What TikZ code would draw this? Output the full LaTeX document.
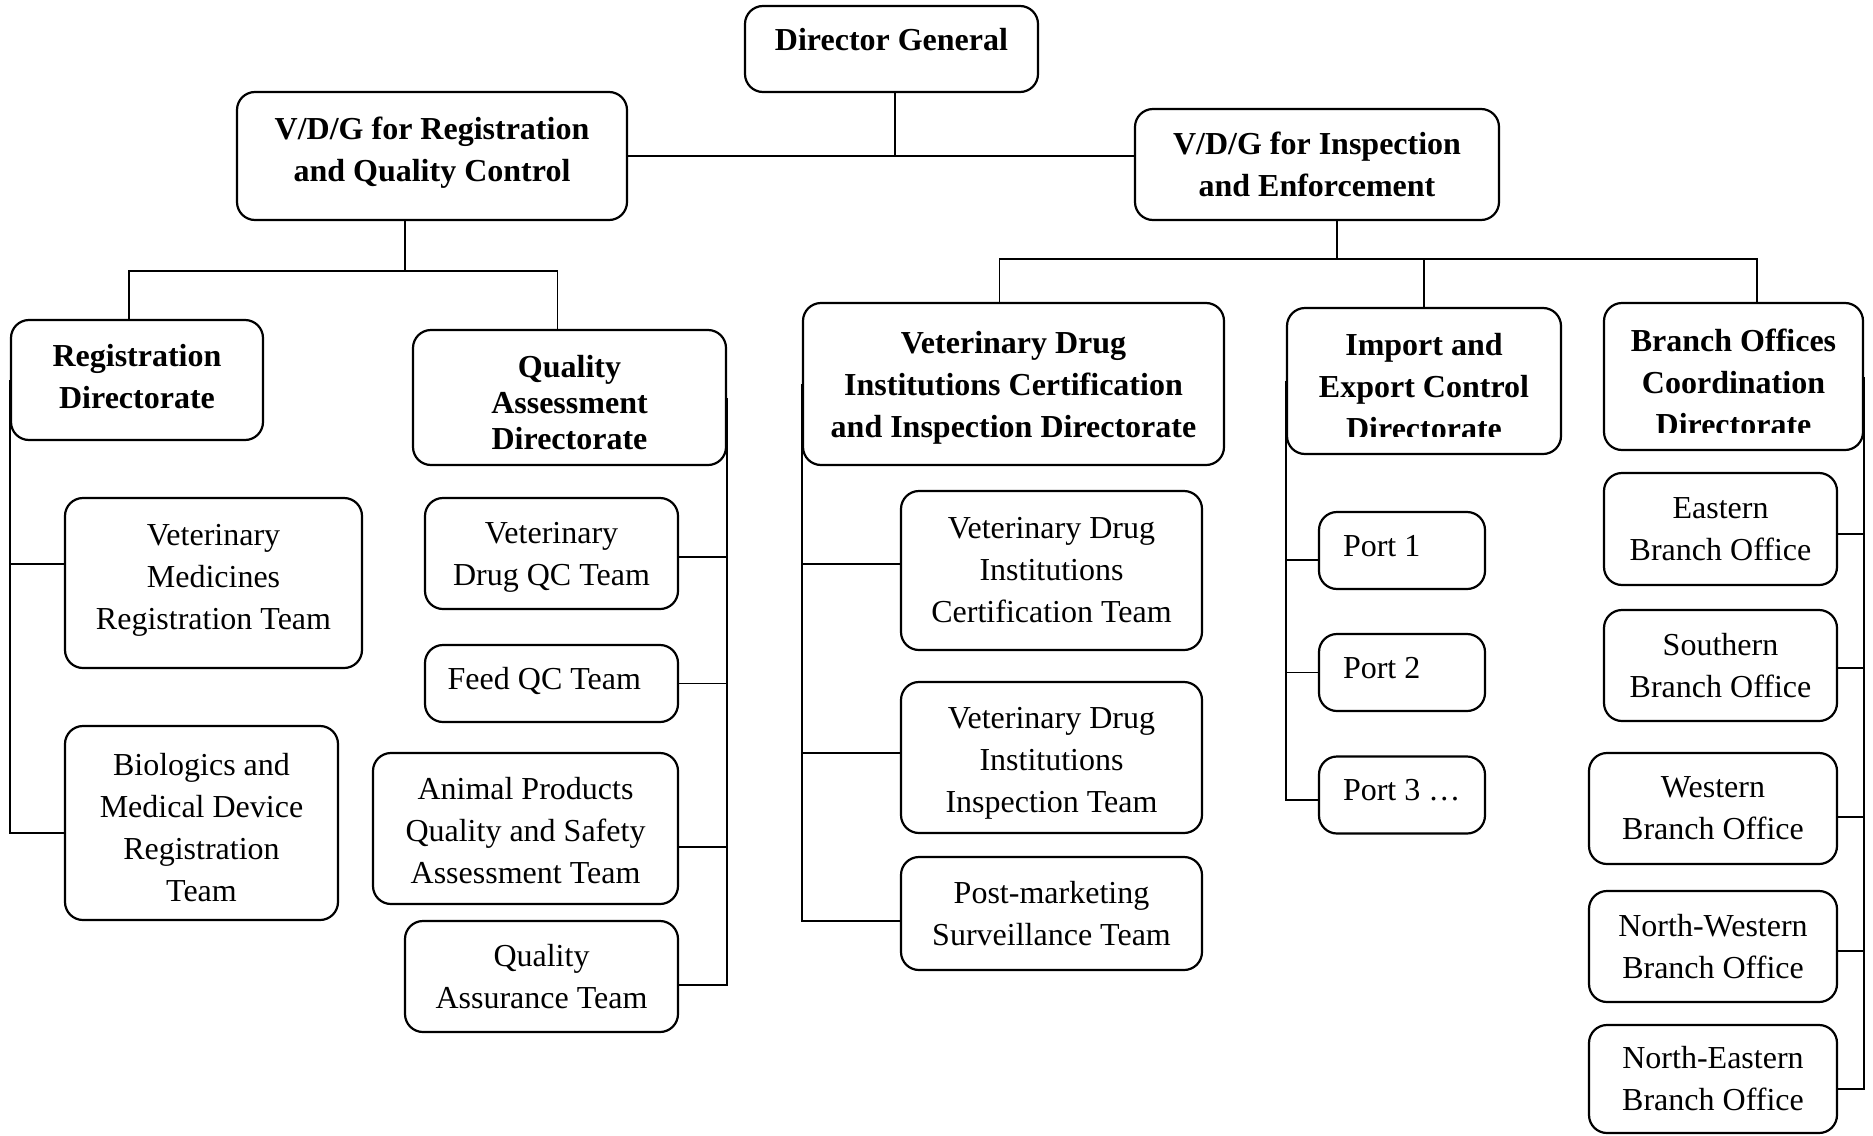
\documentclass[tikz,border=0pt]{standalone}
\usepackage{fontspec}
\setmainfont{Liberation Serif}

\begin{document}
\begin{tikzpicture}
		[x=0.5pt,y=-0.5pt,
		unit/.style={draw,rounded corners=9pt,line width=1.1pt,align=center,inner sep=0pt,font=\fontsize{16}{21}\selectfont},
		head/.style={unit,font=\fontsize{16}{21}\selectfont\bfseries},
		lbl/.style={align=center,inner sep=0pt,font=\fontsize{16}{21}\selectfont\bfseries},
		port/.style={unit,align=flush left,text width=59pt,inner xsep=12pt,minimum height=38.5pt,text depth=4.8pt},
		link/.style={line width=0.9pt}]
		\useasboundingbox (0,0) rectangle (1873,1135);
		
		\node[head,minimum width=146.5pt,minimum height=43pt,text depth=10pt] (dg) at (891.5,49) {Director General};
		\node[head,minimum width=195pt,minimum height=64pt,text depth=6.9pt] (vreg) at (432,156) {V/D/G for Registration\\and Quality Control};
		\node[head,minimum width=182pt,minimum height=55.5pt] (vins) at (1317,164.5) {V/D/G for Inspection\\and Enforcement};
		
		\node[head,minimum width=126pt,minimum height=60pt,text depth=3.6pt] (regd) at (137,380) {Registration\\Directorate};
		\node[head,minimum width=156.5pt,minimum height=67.5pt,font=\fontsize{16}{18}\selectfont\bfseries,text height=52.4pt] (qad) at (569.5,397.5) {Quality\\Assessment\\Directorate};
		\node[head,minimum width=210.5pt,minimum height=81pt,text depth=0pt] (vdd) at (1013.5,384) {Veterinary Drug\\Institutions Certification\\and Inspection Directorate};
		\node[head,minimum width=137pt,minimum height=73pt] (imp) at (1424,381) {};
		\node[head,minimum width=129.5pt,minimum height=73.5pt] (bod) at (1733.5,376.5) {};
		\begin{scope}
		\clip (1287,300) rectangle (1561,436);
		\node[lbl] (impt) at ([yshift=-3pt]imp.center) {Import and\\Export Control\\Directorate};
		\end{scope}
		\begin{scope}
		\clip (1604,300) rectangle (1863,432);
		\node[lbl] (bodt) at ([yshift=-2.75pt]bod.center) {Branch Offices\\Coordination\\Directorate};
		\end{scope}
		
		\node[unit,minimum width=148.5pt,minimum height=85pt,text depth=5.9pt] (vmr) at (213.5,583) {Veterinary\\Medicines\\Registration Team};
		\node[unit,minimum width=136.5pt,minimum height=97pt,text height=78.9pt] (bio) at (201.5,823) {Biologics and\\Medical Device\\Registration\\Team};
		
		\node[unit,minimum width=126.5pt,minimum height=55.5pt,text depth=0pt] (vdqc) at (551.5,553.5) {Veterinary\\Drug QC Team};
		\node[unit,align=flush left,text width=103.8pt,inner xsep=11.35pt,minimum height=38.5pt,text depth=5.5pt] (feed) at (551.5,683.5) {Feed QC Team};
		\node[unit,minimum width=152.5pt,minimum height=75.5pt,text height=55.3pt] (anim) at (525.5,828.5) {Animal Products\\Quality and Safety\\Assessment Team};
		\node[unit,minimum width=136.5pt,minimum height=55.5pt] (qat) at (541.5,976.5) {Quality\\Assurance Team};
		
		\node[unit,minimum width=150.5pt,minimum height=79.5pt] (cert) at (1051.5,570.5) {Veterinary Drug\\Institutions\\Certification Team};
		\node[unit,minimum width=150.5pt,minimum height=75.5pt,text depth=0pt,text height=55.1pt] (insp) at (1051.5,757.5) {Veterinary Drug\\Institutions\\Inspection Team};
		\node[unit,minimum width=150.5pt,minimum height=56.5pt] (post) at (1051.5,913.5) {Post-marketing\\Surveillance Team};
		
		\node[port] (port1) at (1402,550.5) {Port 1};
		\node[port] (port2) at (1402,672.5) {Port 2};
		\node[port] (port3) at (1402,795) {\mbox{Port 3 …}};
		
		\node[unit,minimum width=116.5pt,minimum height=56pt] (east) at (1720.5,529) {Eastern\\Branch Office};
		\node[unit,minimum width=116.5pt,minimum height=55.5pt] (south) at (1720.5,665.5) {Southern\\Branch Office};
		\node[unit,minimum width=124pt,minimum height=55.5pt] (west) at (1713,808.5) {Western\\Branch Office};
		\node[unit,minimum width=124pt,minimum height=55.5pt] (nw) at (1713,946.5) {North-Western\\Branch Office};
		\node[unit,minimum width=124pt,minimum height=54pt] (ne) at (1713,1079) {North-Eastern\\Branch Office};
		
		\coordinate (lbus) at (405,271);
		\coordinate (rbus) at (1337,259);
		
		\draw[link] ([xshift=1.8pt]dg.south) -- ([xshift=1.8pt]dg.south |- vreg.east);
		\draw[link] (vreg.east) -- (vreg.east -| vins.west);
		\draw[link] (lbus |- vreg.south) -- (lbus);
		\draw[link] ([xshift=-4pt]regd.north) |- (lbus) -| ([xshift=-6pt]qad.north);
		\draw[link] (rbus |- vins.south) -- (rbus);
		\draw[link] ([xshift=-7pt]vdd.north) |- (rbus) -| ([xshift=11.75pt]bod.north);
		\draw[link] (imp.north) -- (imp.north |- rbus);
		
		\draw[link] ([yshift=9.5pt]vmr.west) -| (regd.west);
		\draw[link] ([yshift=-5pt]bio.west) -| (regd.west);
		
		\draw[link] ([yshift=-1.75pt]vdqc.east) -| (qad.east);
		\draw[link] (feed.east) -| (qad.east);
		\draw[link] ([yshift=-9.25pt]anim.east) -| (qad.east);
		\draw[link] ([yshift=-4.25pt]qat.east) -| (qad.east);
		
		\draw[link] ([yshift=3.25pt]cert.west) -| (vdd.west);
		\draw[link] ([yshift=2.25pt]insp.west) -| (vdd.west);
		\draw[link] ([yshift=-3.75pt]post.west) -| (vdd.west);
		
		\draw[link] ([yshift=-4.75pt]port1.west) -| (imp.west);
		\draw[link] (port2.west) -| (imp.west);
		\draw[link] ([yshift=-2.5pt]port3.west) -| (imp.west);
		
		\draw[link] ([yshift=-2.5pt]east.east) -| (bod.east);
		\draw[link] ([yshift=-1.25pt]south.east) -| (bod.east);
		\draw[link] ([yshift=-4.25pt]west.east) -| (bod.east);
		\draw[link] ([yshift=-2.25pt]nw.east) -| (bod.east);
		\draw[link] ([yshift=-5pt]ne.east) -| (bod.east);
\end{tikzpicture}
\end{document}
